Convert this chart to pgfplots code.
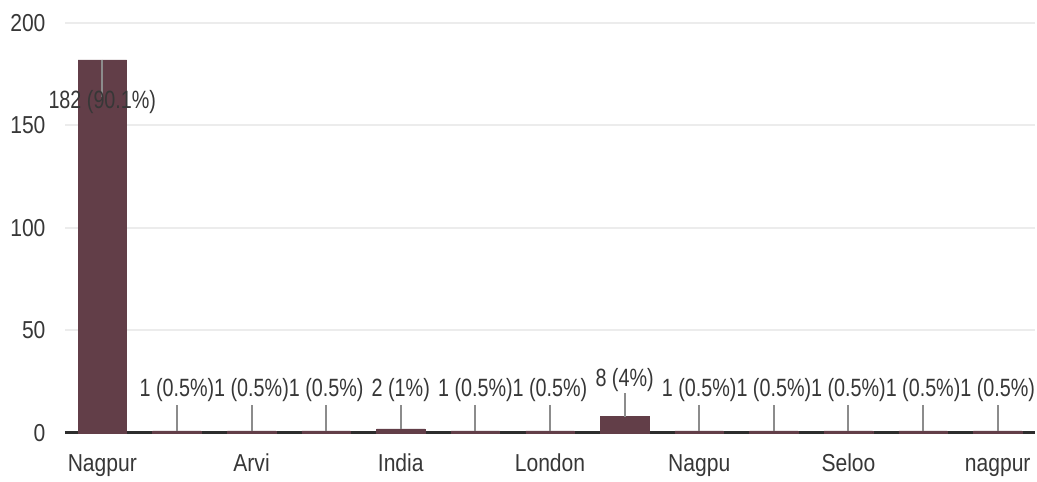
\documentclass[border=0pt]{standalone}
\usepackage{fontspec}
\setmainfont{Liberation Sans}[FakeStretch=0.86]
\newfontfamily\labfont{Liberation Sans}[FakeStretch=0.79]
\usepackage{pgfplots}
\pgfplotsset{compat=1.18}
\usepackage{pgfplotstable}
\definecolor{barc}{RGB}{98,62,72}
\definecolor{txt}{RGB}{55,55,55}
\definecolor{gridc}{RGB}{236,236,236}
\definecolor{axc}{RGB}{45,45,45}
\definecolor{leadc}{RGB}{140,140,140}

\pgfplotstableread{
x y ep em
0 182 0 18
1 1 12.7 0
2 1 12.7 0
3 1 12.7 0
4 2 11.7 0
5 1 12.7 0
6 1 12.7 0
7 8 11.5 0
8 1 12.7 0
9 1 12.7 0
10 1 12.7 0
11 1 12.7 0
12 1 12.7 0
}\data

\pgfplotsset{
  lab/.style={draw=none, mark=none, nodes near coords, point meta=explicit symbolic,
    nodes near coords style={anchor=center, font=\labfont\fontsize{25}{29}\selectfont, inner sep=0pt, #1}},
}

\begin{document}
\begin{tikzpicture}
\path[use as bounding box] (-65pt,-49pt) rectangle (972pt,433pt);
\begin{axis}[
  at={(0,0)}, anchor=south west,
  scale only axis, width=970pt, height=410pt,
  xmin=-0.5, xmax=12.5, ymin=0, ymax=200,
  axis x line=bottom, axis y line=left,
  x axis line style={axc, line width=3pt, -},
  y axis line style={draw=none},
  ytick={0,50,...,200},
  ymajorgrids, grid style={gridc, line width=2pt},
  xtick={0,2,...,12},
  xticklabels={Nagpur,Arvi,India,London,Nagpu,Seloo,nagpur},
  major tick length=0pt,
  tick label style={txt, font=\fontsize{24.5}{28}\selectfont},
  yticklabel style={xshift=-16pt},
  xticklabel style={anchor=north, text height=18pt, text depth=6pt, yshift=-17pt},
  /pgf/number format/assume math mode=true,
  clip=false,
]
\addplot[ybar, bar width=0.65, fill=barc, draw=barc,
  error bars/.cd, y dir=both, y explicit,
  error bar style={leadc, line width=2pt}, error mark=none]
  table[x=x, y=y, y error plus=ep, y error minus=em] {\data};

\addplot[lab={txt}] coordinates {(0,161.5) [182 (90.1\%)]};

\addplot[lab={txt, fill=white, inner xsep=1pt}]
  coordinates {
  (1,21) [1 (0.5\%)]
  (2,21) [1 (0.5\%)]
  (3,21) [1 (0.5\%)]
  (4,21) [2 (1\%)]
  (5,21) [1 (0.5\%)]
  (6,21) [1 (0.5\%)]
  (7,26) [8 (4\%)]
  (8,21) [1 (0.5\%)]
  (9,21) [1 (0.5\%)]
  (10,21) [1 (0.5\%)]
  (11,21) [1 (0.5\%)]
  (12,21) [1 (0.5\%)]
  };
\end{axis}
\end{tikzpicture}
\end{document}
